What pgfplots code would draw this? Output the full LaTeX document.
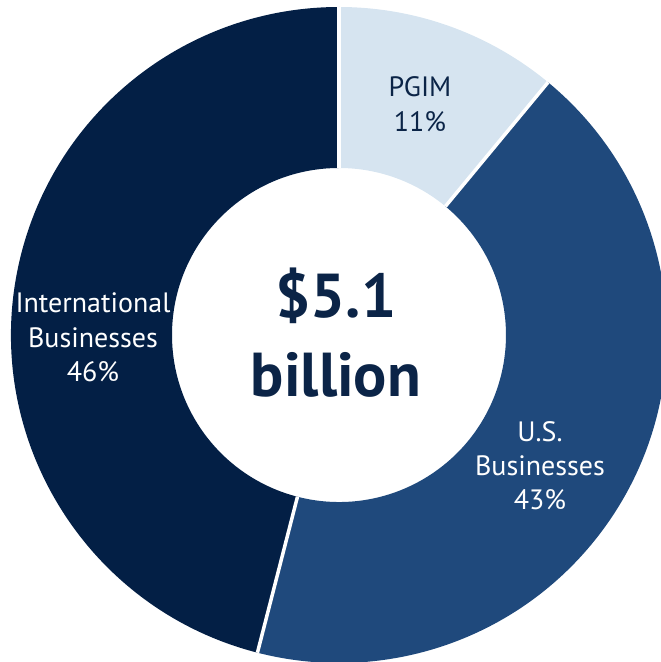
\documentclass[border=0pt]{standalone}
\usepackage{pgfplots}
\pgfplotsset{compat=1.18}
\usepackage{pgfplotstable}
\usepackage{fontspec}
\setmainfont{PT Sans}
\definecolor{pgimc}{HTML}{D6E4F0}
\definecolor{usc}{HTML}{1F497C}
\definecolor{intc}{HTML}{031F45}
\definecolor{navytext}{HTML}{0B2447}
\pgfplotstableread{
name value
PGIM 11
US 43
Intl 46
}\sharetable
\begin{document}
\begin{tikzpicture}
\pgfplotstablegetelem{0}{value}\of\sharetable \let\vA\pgfplotsretval
\pgfplotstablegetelem{1}{value}\of\sharetable \let\vB\pgfplotsretval
\pgfplotstablegetelem{2}{value}\of\sharetable \let\vC\pgfplotsretval
\pgfmathsetmacro{\aA}{90}
\pgfmathsetmacro{\aB}{90-3.6*\vA}
\pgfmathsetmacro{\aC}{\aB-3.6*\vB}
\pgfmathsetmacro{\aD}{\aC-3.6*\vC}
\def\cx{339}\def\cy{327}\def\R{328}\def\r{167}
\pgfmathsetmacro{\oAx}{\cx+\R*cos(\aA)}\pgfmathsetmacro{\oAy}{\cy+\R*sin(\aA)}
\pgfmathsetmacro{\oBx}{\cx+\R*cos(\aB)}\pgfmathsetmacro{\oBy}{\cy+\R*sin(\aB)}
\pgfmathsetmacro{\oCx}{\cx+\R*cos(\aC)}\pgfmathsetmacro{\oCy}{\cy+\R*sin(\aC)}
\pgfmathsetmacro{\iAx}{\cx+\r*cos(\aA)}\pgfmathsetmacro{\iAy}{\cy+\r*sin(\aA)}
\pgfmathsetmacro{\iBx}{\cx+\r*cos(\aB)}\pgfmathsetmacro{\iBy}{\cy+\r*sin(\aB)}
\pgfmathsetmacro{\iCx}{\cx+\r*cos(\aC)}\pgfmathsetmacro{\iCy}{\cy+\r*sin(\aC)}
\begin{axis}[x=1pt,y=1pt,xmin=0,xmax=661,ymin=0,ymax=662,
  hide axis, scale only axis, clip=true, anchor=south west, at={(0,0)}]
\fill[pgimc] (axis cs:\oAx,\oAy) arc[start angle=\aA,end angle=\aB,radius=\R pt]
  -- (axis cs:\iBx,\iBy) arc[start angle=\aB,end angle=\aA,radius=\r pt] -- cycle;
\fill[usc] (axis cs:\oBx,\oBy) arc[start angle=\aB,end angle=\aC,radius=\R pt]
  -- (axis cs:\iCx,\iCy) arc[start angle=\aC,end angle=\aB,radius=\r pt] -- cycle;
\fill[intc] (axis cs:\oCx,\oCy) arc[start angle=\aC,end angle=\aD,radius=\R pt]
  -- (axis cs:\iAx,\iAy) arc[start angle=\aD,end angle=\aC,radius=\r pt] -- cycle;
\draw[white,line width=3.5pt] (axis cs:\iAx,\iAy) -- (axis cs:\oAx,\oAy);
\draw[white,line width=3.5pt] (axis cs:\iBx,\iBy) -- (axis cs:\oBx,\oBy);
\draw[white,line width=3.5pt] (axis cs:\iCx,\iCy) -- (axis cs:\oCx,\oCy);
\node[anchor=base,inner sep=0pt,text=navytext,align=center,font=\fontsize{28}{35}\selectfont] at (axis cs:420,530) {PGIM\\\vA\%};
\node[anchor=base,inner sep=0pt,text=white,align=center,font=\fontsize{28}{34}\selectfont] at (axis cs:540,152) {U.S.\\Businesses\\\vB\%};
\node[anchor=base,inner sep=0pt,text=white,align=center,font=\fontsize{28}{34.5}\selectfont] at (axis cs:93,280) {International\\Businesses\\\vC\%};
\node[anchor=base,inner sep=0pt,text=navytext,align=center,font=\bfseries\fontsize{62}{79}\selectfont] at (axis cs:336,265) {\$5.1\\billion};
\end{axis}
\pgfresetboundingbox
\path (0,0) rectangle (661pt,662pt);
\end{tikzpicture}
\end{document}
